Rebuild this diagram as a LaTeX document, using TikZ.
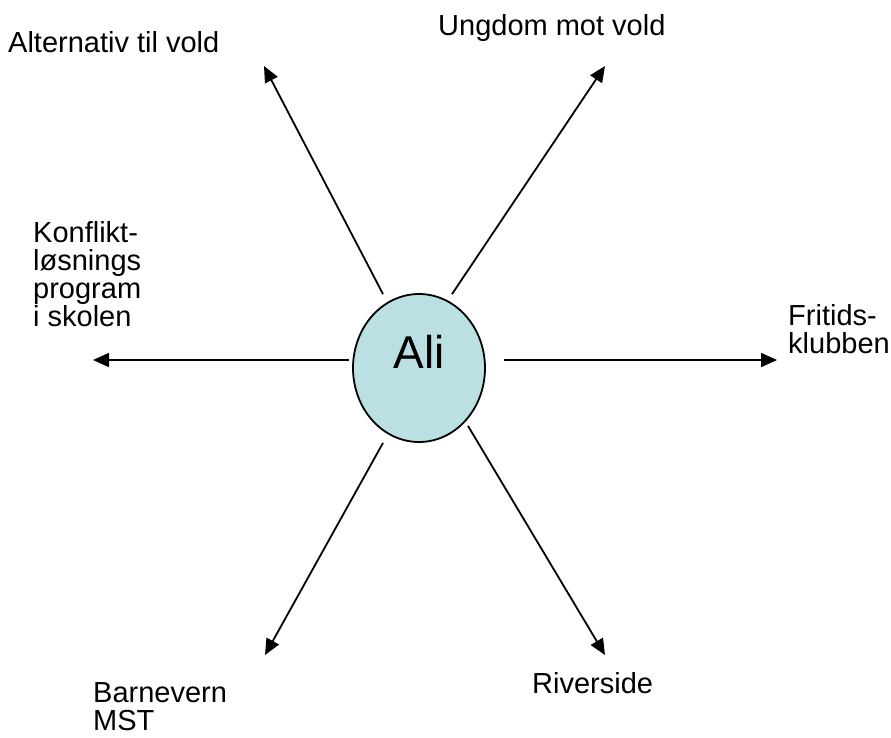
\documentclass[tikz,border=0pt]{standalone}
\usepackage{fontspec}
\setmainfont{Liberation Sans}
\usepackage{tikz}
\usetikzlibrary{shapes,arrows.meta}

\tikzset{
	lbl/.style={font=\fontsize{29}{27.8}\selectfont, inner sep=0pt, align=left},
	pil/.style={line width=1.8pt, -{Triangle[length=16pt,width=14pt]}},
}

\begin{document}
\begin{tikzpicture}[x=1pt, y=-1pt]
			\useasboundingbox (0, 0) rectangle (891, 737);
			\node[ellipse, draw, line width=1.8pt, fill={rgb,255:red,187;green,224;blue,227},
				minimum width=132pt, minimum height=148pt, inner sep=0pt,
				text height=33pt, text depth=33pt, font=\fontsize{46}{50}\selectfont] (ali) at (419, 368) {Ali};
			% labels
			\node[lbl, anchor=base west] (alt) at (8, 52) {Alternativ til vold};
			\node[lbl, anchor=base west] (ungdom) at (438, 35) {Ungdom mot vold};
			\node[lbl, anchor=north west] (konflikt) at (33, 221.5) {Konflikt-\\løsnings\\program\\i skolen};
			\node[lbl, anchor=north west] (fritids) at (788, 304.2) {Fritids-\\klubben};
			\node[lbl, anchor=north west] (barnevern) at (93, 682.2) {Barnevern\\MST};
			\node[lbl, anchor=base west] (riverside) at (532, 693) {Riverside};
			% arrow tips
			\coordinate (tipalt) at (264, 66);
			\coordinate (tipungdom) at (605, 66);
			\coordinate (tipkonflikt) at (93, 360);
			\coordinate (tipfritids) at (777, 360);
			\coordinate (tipbarnevern) at (265, 655);
			\coordinate (tipriverside) at (605, 655);
			\draw[pil] ([xshift=-36pt, yshift=-1pt]ali.north) -- (tipalt);
			\draw[pil] ([xshift=33pt, yshift=-1pt]ali.north) -- (tipungdom);
			\draw[pil] ([xshift=-3pt, yshift=8pt]ali.west) -- (tipkonflikt);
			\draw[pil] ([xshift=18pt, yshift=8pt]ali.east) -- (tipfritids);
			\draw[pil] ([xshift=-36pt]ali.south) -- (tipbarnevern);
			\draw[pil] ([xshift=49pt, yshift=17pt]ali.south) -- (tipriverside);
		\end{tikzpicture}
\end{document}
